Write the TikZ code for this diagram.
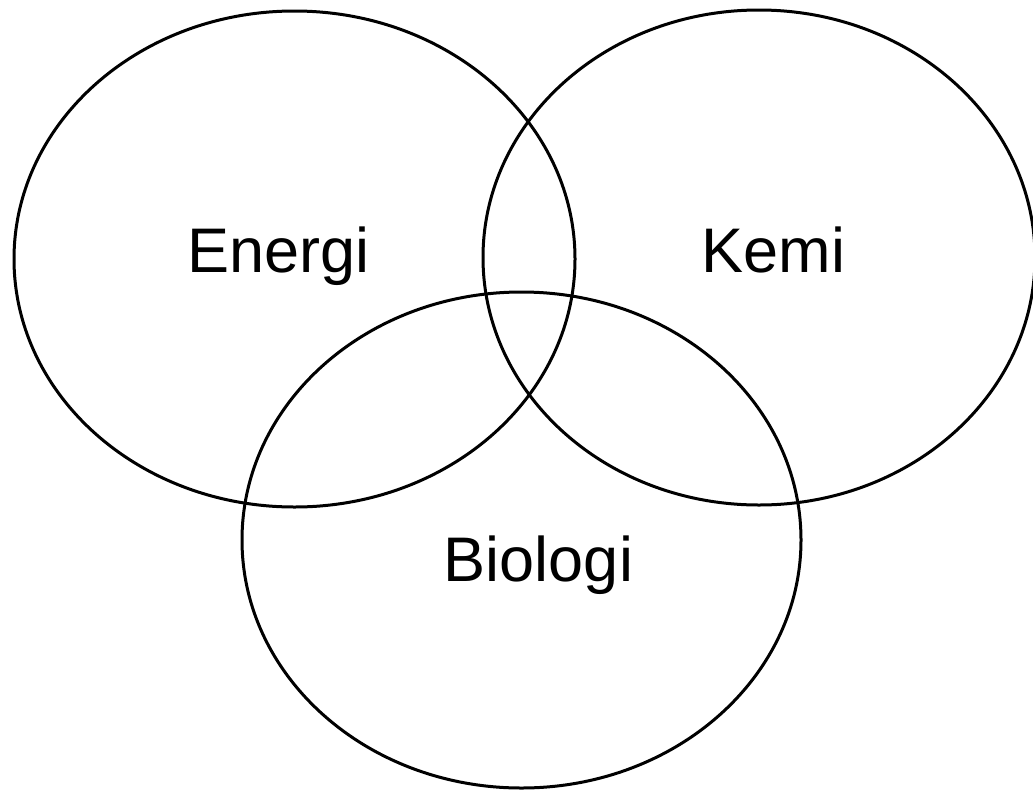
\documentclass[tikz,border=0pt]{standalone}
\usepackage{fontspec}
\setmainfont{Liberation Sans}
\begin{document}
\begin{tikzpicture}[x=1pt,y=-1pt,
  ring/.style={draw=black,line width=3pt},
  lbl/.style={font=\fontsize{63}{70}\selectfont,inner sep=0pt,anchor=base}]
\useasboundingbox (0,0) rectangle (1033,790);
\clip (0,0) rectangle (1033,790);
\draw[ring] (294.5,259) ellipse [x radius=280.5pt, y radius=248pt];
\draw[ring] (759,257.5) ellipse [x radius=276pt, y radius=247.5pt];
\draw[ring] (521.5,540) ellipse [x radius=279.5pt, y radius=248pt];
\node[lbl] (energi) at (278.5,272) {Energi};
\node[lbl] (kemi) at (773.5,272) {Kemi};
\node[lbl] (biologi) at (538.5,581) {Biologi};
\end{tikzpicture}
\end{document}
